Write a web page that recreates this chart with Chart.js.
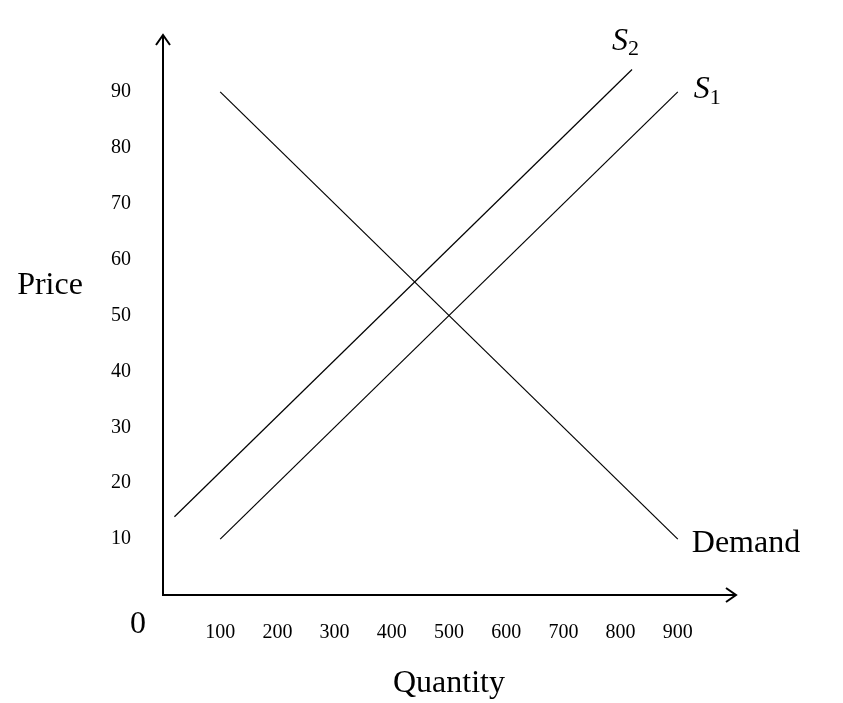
<!DOCTYPE html>
<html><head><meta charset="utf-8">
<script src="https://cdn.jsdelivr.net/npm/chart.js@4.4.0/dist/chart.umd.min.js"></script>
<style>html,body{margin:0;padding:0;background:#fff}#w{width:843px;height:703px}</style>
</head><body><div id="w"><canvas id="c"></canvas></div>
<script>
const demandQ = [100, 900];
const demandP = [90, 10];
const s1Q = [100, 900];
const s1P = [10, 90];
const s2Q = [20, 820];
const s2P = [14, 94];
const xTicks = [100,200,300,400,500,600,700,800,900];
const yTicks = [10,20,30,40,50,60,70,80,90];
const FONT = '"Liberation Serif", "DejaVu Serif", serif';
const pts = (q,p) => q.map((v,i)=>({x:v,y:p[i]}));
const ds = (q,p) => ({data:pts(q,p), showLine:true, borderColor:'#000', borderWidth:1.2, pointRadius:0, fill:false});

const deco = {
  id:'deco',
  afterDraw(ch){
    const c = ch.ctx, a = ch.chartArea, xs = ch.scales.x, ys = ch.scales.y;
    c.save();
    c.strokeStyle='#000'; c.lineWidth=2;
    // arrows
    c.beginPath();
    c.moveTo(a.right-9,a.bottom-7); c.lineTo(a.right+1,a.bottom); c.lineTo(a.right-9,a.bottom+7);
    c.moveTo(a.left-7,a.top+9); c.lineTo(a.left,a.top-1); c.lineTo(a.left+7,a.top+9);
    c.stroke();
    c.fillStyle='#000';
    c.font='32px '+FONT; c.textAlign='center'; c.textBaseline='middle';
    c.fillText('0', 138, 625);
    c.fillText('Price', 50, 286);
    c.fillText('Quantity', xs.getPixelForValue(500), 684);
    c.textAlign='left';
    c.fillText('Demand', xs.getPixelForValue(900)+14, ys.getPixelForValue(10)+4);
    const sub=(name,n,x,y)=>{
      c.font='italic 32px '+FONT; c.fillText(name,x,y);
      const w=c.measureText(name).width;
      c.font='22px '+FONT; c.fillText(n,x+w,y+8);
    };
    sub('S','2', xs.getPixelForValue(s2Q[1])-20, ys.getPixelForValue(s2P[1])-28);
    sub('S','1', xs.getPixelForValue(s1Q[1])+16, ys.getPixelForValue(s1P[1])-2);
    c.restore();
  }
};

new Chart(document.getElementById('c'), {
  type:'scatter',
  data:{datasets:[ds(demandQ,demandP), ds(s1Q,s1P), ds(s2Q,s2P)]},
  options:{
    responsive:true, maintainAspectRatio:false, animation:false,
    layout:{padding:{top:25,right:108,left:0,bottom:0}},
    plugins:{legend:{display:false},tooltip:{enabled:false}},
    scales:{
      x:{type:'linear',min:0,max:1000,
        afterFit:s=>{s.height=108;},
        grid:{display:false},
        border:{display:true,color:'#000',width:2},
        afterBuildTicks:s=>{s.ticks=xTicks.map(v=>({value:v}));},
        ticks:{color:'#000',font:{family:FONT,size:20},padding:18,maxRotation:0}},
      y:{type:'linear',min:0,max:100,
        afterFit:s=>{s.width=163;},
        grid:{display:false},
        border:{display:true,color:'#000',width:2},
        afterBuildTicks:s=>{s.ticks=yTicks.map(v=>({value:v}));},
        ticks:{color:'#000',font:{family:FONT,size:20},padding:24}}
    }
  },
  plugins:[deco]
});
</script></body></html>
